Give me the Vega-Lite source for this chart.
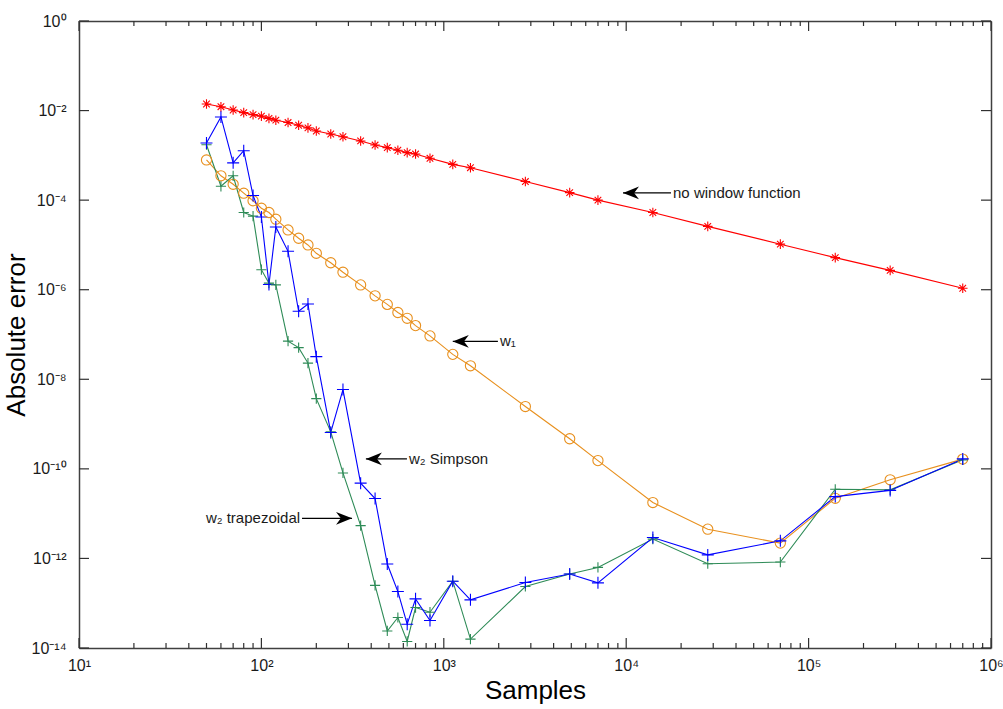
{
  "$schema": "https://vega.github.io/schema/vega-lite/v6.json",
  "width": 912,
  "height": 627,
  "autosize": "none",
  "padding": {"left": 79, "top": 21, "right": 12, "bottom": 61},
  "background": "white",
  "config": {
    "view": {"stroke": null},
    "font": "Liberation Sans",
    "axis": {
      "grid": false,
      "domainColor": "#404040",
      "domainWidth": 1.5,
      "ticks": false,
      "labelFont": "Liberation Sans",
      "labelFontSize": 16,
      "labelColor": "#1a1a1a",
      "titleFont": "Liberation Sans",
      "titleFontSize": 26,
      "titleFontWeight": "normal",
      "titleColor": "#000000"
    }
  },
  "datasets": {
    "errs": [
      {"N": 50, "none": 0.0140, "w1": 7.9e-4, "simp": 1.89e-3, "trap": 1.73e-3},
      {"N": 60, "none": 0.0122, "w1": 3.5e-4, "simp": 7.2e-3, "trap": 2.04e-4},
      {"N": 70, "none": 0.0103, "w1": 2.26e-4, "simp": 6.8e-4, "trap": 3.5e-4},
      {"N": 80, "none": 0.0090, "w1": 1.43e-4, "simp": 1.27e-3, "trap": 5.3e-5},
      {"N": 90, "none": 0.0081, "w1": 9.7e-5, "simp": 1.27e-4, "trap": 4.4e-5},
      {"N": 100, "none": 0.0075, "w1": 6.6e-5, "simp": 4.2e-5, "trap": 2.8e-6},
      {"N": 110, "none": 0.0067, "w1": 5.3e-5, "simp": 1.31e-6, "trap": 1.4e-6},
      {"N": 120, "none": 0.0061, "w1": 3.75e-5, "simp": 2.52e-5, "trap": 1.28e-6},
      {"N": 140, "none": 0.0054, "w1": 2.16e-5, "simp": 7.2e-6, "trap": 7.1e-8},
      {"N": 160, "none": 0.0047, "w1": 1.41e-5, "simp": 3.3e-7, "trap": 5.1e-8},
      {"N": 180, "none": 0.0041, "w1": 1.0e-5, "simp": 4.8e-7, "trap": 2.3e-8},
      {"N": 200, "none": 0.0035, "w1": 6.5e-6, "simp": 3.2e-8, "trap": 3.7e-9},
      {"N": 240, "none": 0.0030, "w1": 4.0e-6, "simp": 6.5e-10, "trap": 6.7e-10},
      {"N": 280, "none": 0.0026, "w1": 2.46e-6, "simp": 5.9e-9, "trap": 8.1e-11},
      {"N": 350, "none": 0.0021, "w1": 1.28e-6, "simp": 4.8e-11, "trap": 5.4e-12},
      {"N": 420, "none": 0.0017, "w1": 7.3e-7, "simp": 2.17e-11, "trap": 2.5e-13},
      {"N": 490, "none": 0.00149, "w1": 4.7e-7, "simp": 7.5e-13, "trap": 2.4e-14},
      {"N": 560, "none": 0.0013, "w1": 3.1e-7, "simp": 1.82e-13, "trap": 4.8e-14},
      {"N": 630, "none": 0.00115, "w1": 2.3e-7, "simp": 3.4e-14, "trap": 1.4e-14},
      {"N": 700, "none": 0.00107, "w1": 1.58e-7, "simp": 1.25e-13, "trap": 8.0e-14},
      {"N": 840, "none": 0.00086, "w1": 9.3e-8, "simp": 4.1e-14, "trap": 6.3e-14},
      {"N": 1120, "none": 0.00063, "w1": 3.6e-8, "simp": 3.1e-13, "trap": 3.1e-13},
      {"N": 1400, "none": 0.00053, "w1": 2.0e-8, "simp": 1.19e-13, "trap": 1.58e-14},
      {"N": 2800, "none": 0.00026, "w1": 2.46e-9, "simp": 2.9e-13, "trap": 2.36e-13},
      {"N": 4900, "none": 0.000147, "w1": 4.7e-10, "simp": 4.5e-13, "trap": 4.5e-13},
      {"N": 7000, "none": 0.0001, "w1": 1.53e-10, "simp": 2.85e-13, "trap": 6.3e-13},
      {"N": 14000, "none": 5.3e-5, "w1": 1.77e-11, "simp": 2.93e-12, "trap": 2.7e-12},
      {"N": 28000, "none": 2.6e-5, "w1": 4.5e-12, "simp": 1.2e-12, "trap": 7.6e-13},
      {"N": 70000, "none": 1.04e-5, "w1": 2.2e-12, "simp": 2.47e-12, "trap": 8.3e-13},
      {"N": 140000, "none": 5.2e-6, "w1": 2.2e-11, "simp": 2.4e-11, "trap": 3.5e-11},
      {"N": 280000, "none": 2.7e-6, "w1": 5.7e-11, "simp": 3.3e-11, "trap": 3.4e-11},
      {"N": 700000, "none": 1.08e-6, "w1": 1.65e-10, "simp": 1.67e-10, "trap": 1.59e-10}
    ],
    "arrows": [
      {"tail": 17600, "tip": 9600, "y": 1.45e-4, "dir": "left"},
      {"tail": 1980, "tip": 1120, "y": 7.0e-8, "dir": "left"},
      {"tail": 628, "tip": 374, "y": 1.67e-10, "dir": "left"},
      {"tail": 167, "tip": 314, "y": 7.85e-12, "dir": "right"}
    ],
    "labels": [
      {"N": 18060, "y": 1.45e-4, "text": "no window function", "side": "left"},
      {"N": 2032, "y": 7.0e-8, "text": "w₁", "side": "left"},
      {"N": 644, "y": 1.67e-10, "text": "w₂ Simpson", "side": "left"},
      {"N": 163, "y": 7.85e-12, "text": "w₂ trapezoidal", "side": "right"}
    ],
    "xmajor": [{"v": 10}, {"v": 100}, {"v": 1000}, {"v": 10000}, {"v": 100000}, {"v": 1000000}],
    "xminor": [
      {"v": 20}, {"v": 30}, {"v": 40}, {"v": 50}, {"v": 60}, {"v": 70}, {"v": 80}, {"v": 90},
      {"v": 200}, {"v": 300}, {"v": 400}, {"v": 500}, {"v": 600}, {"v": 700}, {"v": 800}, {"v": 900},
      {"v": 2000}, {"v": 3000}, {"v": 4000}, {"v": 5000}, {"v": 6000}, {"v": 7000}, {"v": 8000}, {"v": 9000},
      {"v": 20000}, {"v": 30000}, {"v": 40000}, {"v": 50000}, {"v": 60000}, {"v": 70000}, {"v": 80000}, {"v": 90000},
      {"v": 200000}, {"v": 300000}, {"v": 400000}, {"v": 500000}, {"v": 600000}, {"v": 700000}, {"v": 800000}, {"v": 900000}
    ],
    "yticks": [{"v": 1}, {"v": 0.01}, {"v": 0.0001}, {"v": 1e-6}, {"v": 1e-8}, {"v": 1e-10}, {"v": 1e-12}, {"v": 1e-14}]
  },
  "layer": [
    {
      "data": {"name": "errs"},
      "transform": [{"fold": ["w1", "trap", "simp", "none"], "as": ["series", "err"]}],
      "mark": {"type": "line", "strokeWidth": 1.1},
      "encoding": {
        "x": {
          "field": "N", "type": "quantitative",
          "scale": {"type": "log", "domain": [10, 1000000], "nice": false},
          "axis": {
            "orient": "bottom",
            "title": "Samples",
            "values": [10, 100, 1000, 10000, 100000, 1000000],
            "labelExpr": "datum.value==10?'10¹':datum.value==100?'10²':datum.value==1000?'10³':datum.value==10000?'10⁴':datum.value==100000?'10⁵':datum.value==1000000?'10⁶':''",
            "ticks": false,
            "labelPadding": 9,
            "labelOverlap": false,
            "labelFlush": false,
            "titlePadding": 4
          }
        },
        "y": {
          "field": "err", "type": "quantitative",
          "scale": {"type": "log", "domain": [1e-14, 1], "nice": false},
          "axis": {
            "orient": "left",
            "title": "Absolute error",
            "values": [1, 0.01, 0.0001, 1e-6, 1e-8, 1e-10, 1e-12, 1e-14],
            "labelExpr": "datum.value==1?'10⁰':datum.value==0.01?'10⁻²':datum.value==0.0001?'10⁻⁴':datum.value==1e-6?'10⁻⁶':datum.value==1e-8?'10⁻⁸':datum.value==1e-10?'10⁻¹⁰':datum.value==1e-12?'10⁻¹²':datum.value==1e-14?'10⁻¹⁴':''",
            "ticks": false,
            "labelPadding": 13,
            "labelOverlap": false,
            "labelFlush": false,
            "titlePadding": 2
          }
        },
        "color": {
          "field": "series", "type": "nominal",
          "scale": {"domain": ["none", "w1", "simp", "trap"], "range": ["#FF0000", "#E8901E", "#0000FF", "#2E8B57"]},
          "legend": null
        }
      }
    },
    {
      "data": {"name": "errs"},
      "transform": [{"fold": ["w1", "trap", "simp", "none"], "as": ["series", "err"]}],
      "mark": {"type": "point", "filled": false, "size": 144, "strokeWidth": 1.1, "opacity": 1},
      "encoding": {
        "x": {
          "field": "N", "type": "quantitative",
          "scale": {"type": "log", "domain": [10, 1000000], "nice": false},
          "axis": {"orient": "top", "title": null, "labels": false, "ticks": false, "values": [10, 1000000]}
        },
        "y": {
          "field": "err", "type": "quantitative",
          "scale": {"type": "log", "domain": [1e-14, 1], "nice": false},
          "axis": {"orient": "right", "title": null, "labels": false, "ticks": false, "values": [1, 1e-14]}
        },
        "color": {
          "field": "series", "type": "nominal",
          "scale": {"domain": ["none", "w1", "simp", "trap"], "range": ["#FF0000", "#E8901E", "#0000FF", "#2E8B57"]},
          "legend": null
        },
        "shape": {
          "field": "series", "type": "nominal",
          "scale": {
            "domain": ["none", "w1", "simp", "trap"],
            "range": [
              "M-0.8,0L0.8,0M0,-0.8L0,0.8M-0.55,-0.55L0.55,0.55M-0.55,0.55L0.55,-0.55",
              "M-0.85,0A0.85,0.85 0 1,0 0.85,0A0.85,0.85 0 1,0 -0.85,0",
              "M-1,0L1,0M0,-1L0,1",
              "M-0.85,0L0.85,0M0,-0.85L0,0.85"
            ]
          },
          "legend": null
        }
      }
    },
    {
      "data": {"name": "xmajor"},
      "mark": {"type": "rule", "color": "#303030", "strokeWidth": 1.2},
      "encoding": {
        "x": {"field": "v", "type": "quantitative", "axis": null},
        "y": {"datum": 1e-14, "type": "quantitative", "axis": null},
        "y2": {"datum": 1.672e-14}
      }
    },
    {
      "data": {"name": "xminor"},
      "mark": {"type": "rule", "color": "#303030", "strokeWidth": 1.2},
      "encoding": {
        "x": {"field": "v", "type": "quantitative", "axis": null},
        "y": {"datum": 1e-14, "type": "quantitative", "axis": null},
        "y2": {"datum": 1.293e-14}
      }
    },
    {
      "data": {"name": "xmajor"},
      "mark": {"type": "rule", "color": "#303030", "strokeWidth": 1.2},
      "encoding": {
        "x": {"field": "v", "type": "quantitative", "axis": null},
        "y": {"datum": 1, "type": "quantitative", "axis": null},
        "y2": {"datum": 0.598}
      }
    },
    {
      "data": {"name": "xminor"},
      "mark": {"type": "rule", "color": "#303030", "strokeWidth": 1.2},
      "encoding": {
        "x": {"field": "v", "type": "quantitative", "axis": null},
        "y": {"datum": 1, "type": "quantitative", "axis": null},
        "y2": {"datum": 0.773}
      }
    },
    {
      "data": {"name": "yticks"},
      "mark": {"type": "rule", "color": "#303030", "strokeWidth": 1.2},
      "encoding": {
        "y": {"field": "v", "type": "quantitative", "axis": null},
        "x": {"datum": 10, "type": "quantitative", "axis": null},
        "x2": {"datum": 11.35}
      }
    },
    {
      "data": {"name": "yticks"},
      "mark": {"type": "rule", "color": "#303030", "strokeWidth": 1.2},
      "encoding": {
        "y": {"field": "v", "type": "quantitative", "axis": null},
        "x": {"datum": 1000000, "type": "quantitative", "axis": null},
        "x2": {"datum": 881400}
      }
    },
    {
      "data": {"name": "arrows"},
      "mark": {"type": "rule", "color": "#000000", "strokeWidth": 1.2},
      "encoding": {
        "x": {"field": "tail", "type": "quantitative", "axis": null},
        "x2": {"field": "tip"},
        "y": {"field": "y", "type": "quantitative", "axis": null}
      }
    },
    {
      "data": {"name": "arrows"},
      "transform": [{"filter": "datum.dir == 'left'"}],
      "mark": {"type": "point", "filled": true, "color": "#000000", "opacity": 1, "size": 256, "shape": "M0,0L2,-0.8L1.4,0L2,0.8Z"},
      "encoding": {
        "x": {"field": "tip", "type": "quantitative", "axis": null},
        "y": {"field": "y", "type": "quantitative", "axis": null}
      }
    },
    {
      "data": {"name": "arrows"},
      "transform": [{"filter": "datum.dir == 'right'"}],
      "mark": {"type": "point", "filled": true, "color": "#000000", "opacity": 1, "size": 256, "shape": "M0,0L-2,-0.8L-1.4,0L-2,0.8Z"},
      "encoding": {
        "x": {"field": "tip", "type": "quantitative", "axis": null},
        "y": {"field": "y", "type": "quantitative", "axis": null}
      }
    },
    {
      "data": {"name": "labels"},
      "transform": [{"filter": "datum.side == 'left'"}],
      "mark": {"type": "text", "align": "left", "baseline": "middle", "font": "Liberation Sans", "fontSize": 15, "color": "#1a1a1a"},
      "encoding": {
        "x": {"field": "N", "type": "quantitative", "axis": null},
        "y": {"field": "y", "type": "quantitative", "axis": null},
        "text": {"field": "text"}
      }
    },
    {
      "data": {"name": "labels"},
      "transform": [{"filter": "datum.side == 'right'"}],
      "mark": {"type": "text", "align": "right", "baseline": "middle", "font": "Liberation Sans", "fontSize": 15, "color": "#1a1a1a"},
      "encoding": {
        "x": {"field": "N", "type": "quantitative", "axis": null},
        "y": {"field": "y", "type": "quantitative", "axis": null},
        "text": {"field": "text"}
      }
    }
  ],
  "resolve": {"axis": {"x": "independent", "y": "independent"}}
}
